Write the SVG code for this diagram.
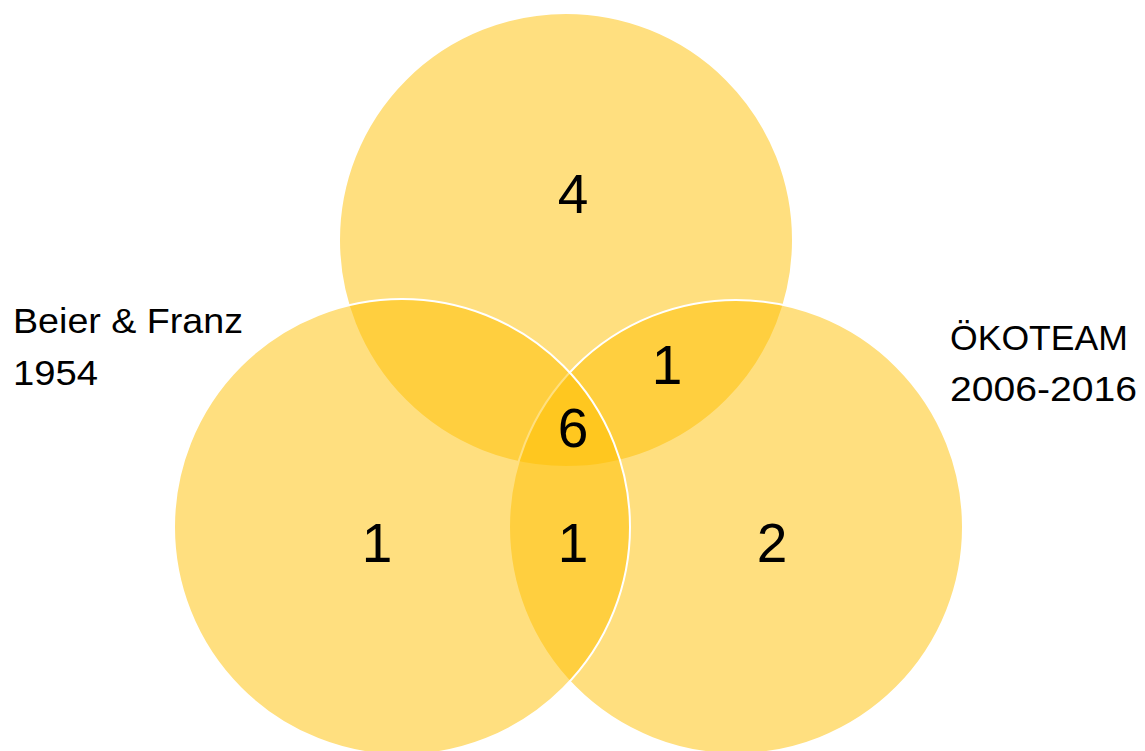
<svg xmlns="http://www.w3.org/2000/svg" width="1145" height="751" viewBox="0 0 1145 751">
<style>
.c{fill:#FFC000;fill-opacity:0.5;stroke:#FFFFFF;stroke-width:2}
.n{font-family:"Liberation Sans",Arial,sans-serif;font-size:55px;fill:#000;text-anchor:middle}
.l{font-family:"Liberation Sans",Arial,sans-serif;font-size:35px;fill:#000}
</style>
<rect width="1145" height="751" fill="#FFFFFF"/>
<g id="circle-top"><circle class="c" cx="566" cy="240" r="227"/></g>
<g id="circle-right"><circle class="c" cx="736" cy="527" r="227"/></g>
<g id="circle-left"><circle class="c" cx="402" cy="527" r="228"/></g>
<g id="numbers">
<text class="n" x="573" y="213">4</text>
<text class="n" x="667" y="384">1</text>
<text class="n" x="573" y="447">6</text>
<text class="n" x="377" y="562">1</text>
<text class="n" x="573" y="562">1</text>
<text class="n" x="772" y="562">2</text>
</g>
<g id="label-left">
<text class="l" x="13" y="333" textLength="230" lengthAdjust="spacingAndGlyphs">Beier &amp; Franz</text>
<text class="l" x="13" y="385" textLength="85" lengthAdjust="spacingAndGlyphs">1954</text>
</g>
<g id="label-right">
<text class="l" x="950" y="350" textLength="178" lengthAdjust="spacingAndGlyphs">ÖKOTEAM</text>
<text class="l" x="950" y="401" textLength="187" lengthAdjust="spacingAndGlyphs">2006-2016</text>
</g>
<g id="connectors"></g>
</svg>
